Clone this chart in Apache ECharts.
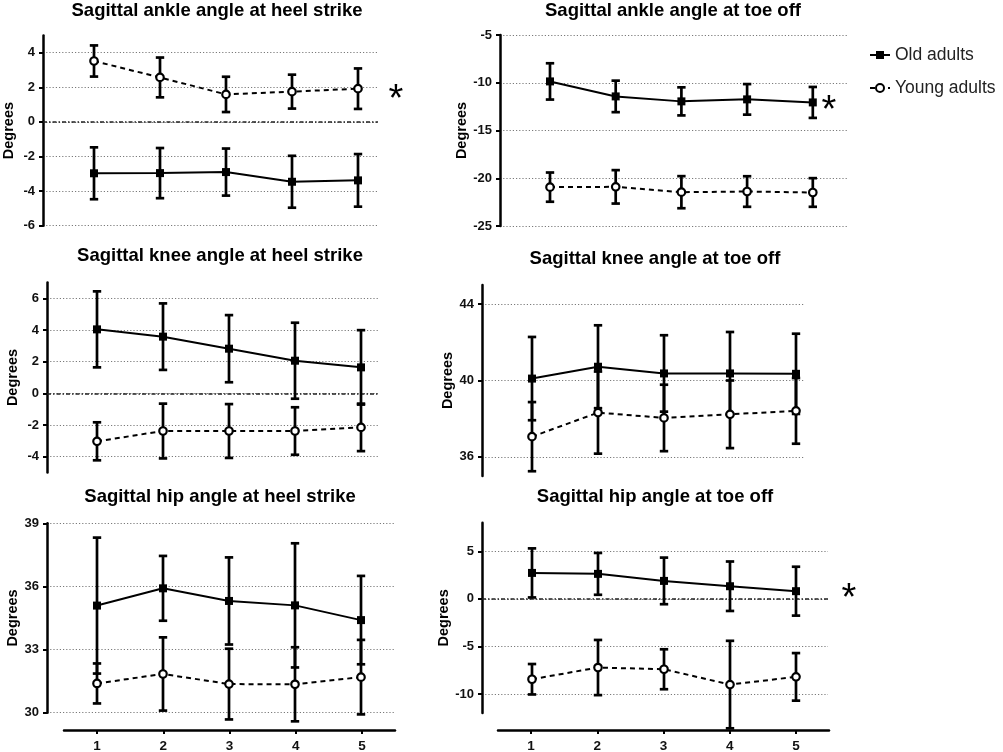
<!DOCTYPE html>
<html>
<head>
<meta charset="utf-8">
<script src="https://cdn.jsdelivr.net/npm/echarts@6/dist/echarts.min.js"></script>
<style>html,body{margin:0;padding:0;background:#fff}#c{width:1003px;height:752px}</style>
</head>
<body>
<div id="c"></div>
<script>
// ---------- data ----------
const xValues = [1, 2, 3, 4, 5];
const seriesNames = ['Old adults', 'Young adults'];
const titles = [
  'Sagittal ankle angle at heel strike',
  'Sagittal ankle angle at toe off',
  'Sagittal knee angle at heel strike',
  'Sagittal knee angle at toe off',
  'Sagittal hip angle at heel strike',
  'Sagittal hip angle at toe off'
];
const yName = 'Degrees';

// Sagittal ankle angle at heel strike
const ankleHsOldMean = [-2.97, -2.96, -2.90, -3.46, -3.38];
const ankleHsOldSd = [1.50, 1.45, 1.36, 1.50, 1.52];
const ankleHsYoungMean = [3.52, 2.57, 1.59, 1.75, 1.92];
const ankleHsYoungSd = [0.90, 1.15, 1.02, 0.98, 1.17];
const ankleHsRange = [-6, 5];
const ankleHsTicks = [-6, -4, -2, 0, 2, 4];

// Sagittal ankle angle at toe off
const ankleToOldMean = [-9.86, -11.43, -11.95, -11.74, -12.06];
const ankleToOldSd = [1.90, 1.65, 1.47, 1.60, 1.62];
const ankleToYoungMean = [-20.93, -20.90, -21.46, -21.39, -21.49];
const ankleToYoungSd = [1.53, 1.75, 1.68, 1.60, 1.50];
const ankleToRange = [-25, -5];
const ankleToTicks = [-25, -20, -15, -10, -5];

// Sagittal knee angle at heel strike
const kneeHsOldMean = [4.04, 3.58, 2.82, 2.06, 1.64];
const kneeHsOldSd = [2.40, 2.10, 2.12, 2.40, 2.35];
const kneeHsYoungMean = [-3.03, -2.38, -2.38, -2.38, -2.15];
const kneeHsYoungSd = [1.20, 1.73, 1.70, 1.50, 1.50];
const kneeHsRange = [-5, 7];
const kneeHsTicks = [-4, -2, 0, 2, 4, 6];

// Sagittal knee angle at toe off
const kneeToOldMean = [40.10, 40.72, 40.37, 40.37, 40.35];
const kneeToOldSd = [2.18, 2.17, 2.00, 2.17, 2.10];
const kneeToYoungMean = [37.06, 38.32, 38.04, 38.23, 38.41];
const kneeToYoungSd = [1.81, 2.15, 1.74, 1.77, 1.72];
const kneeToRange = [35, 45];
const kneeToTicks = [36, 40, 44];

// Sagittal hip angle at heel strike
const hipHsOldMean = [35.09, 35.91, 35.31, 35.10, 34.40];
const hipHsOldSd = [3.23, 1.54, 2.07, 2.95, 2.10];
const hipHsYoungMean = [31.39, 31.84, 31.36, 31.35, 31.69];
const hipHsYoungSd = [0.95, 1.74, 1.68, 1.76, 1.77];
const hipHsRange = [30, 39];
const hipHsTicks = [30, 33, 36, 39];

// Sagittal hip angle at toe off
const hipToOldMean = [2.73, 2.63, 1.89, 1.33, 0.81];
const hipToOldSd = [2.58, 2.20, 2.45, 2.60, 2.57];
const hipToYoungMean = [-8.45, -7.22, -7.40, -9.01, -8.20];
const hipToYoungSd = [1.60, 2.90, 2.10, 4.60, 2.50];
const hipToRange = [-12, 8];
const hipToTicks = [-10, -5, 0, 5];

// which panels carry a significance asterisk / zero reference line
const starFlags = [true, true, false, false, false, true];
const zeroFlags = [true, false, true, false, false, true];

// ---------- panel assembly ----------
const panels = [
  {old: [ankleHsOldMean, ankleHsOldSd], young: [ankleHsYoungMean, ankleHsYoungSd], range: ankleHsRange, ticks: ankleHsTicks},
  {old: [ankleToOldMean, ankleToOldSd], young: [ankleToYoungMean, ankleToYoungSd], range: ankleToRange, ticks: ankleToTicks},
  {old: [kneeHsOldMean, kneeHsOldSd], young: [kneeHsYoungMean, kneeHsYoungSd], range: kneeHsRange, ticks: kneeHsTicks},
  {old: [kneeToOldMean, kneeToOldSd], young: [kneeToYoungMean, kneeToYoungSd], range: kneeToRange, ticks: kneeToTicks},
  {old: [hipHsOldMean, hipHsOldSd], young: [hipHsYoungMean, hipHsYoungSd], range: hipHsRange, ticks: hipHsTicks},
  {old: [hipToOldMean, hipToOldSd], young: [hipToYoungMean, hipToYoungSd], range: hipToRange, ticks: hipToTicks}
];

// ---------- layout (pixels) ----------
const layout = [
  {L: 43,  R: 378, T: 35.4,  By: 225.7, Bd: 225.7, p1: 94,  s: 66,   tx: 217, ty: 11,  star: [396, 101]},
  {L: 500, R: 847, T: 35,    By: 226,   Bd: 226,   p1: 550, s: 65.7, tx: 673, ty: 11,  star: [829, 112]},
  {L: 47,  R: 378, T: 282.5, By: 472.5, Bd: 472.5, p1: 97,  s: 66,   tx: 220, ty: 256},
  {L: 482, R: 805, T: 285,   By: 476,   Bd: 476,   p1: 532, s: 66,   tx: 655, ty: 259},
  {L: 47,  R: 394, T: 523.3, By: 712.7, Bd: 730,   p1: 97,  s: 66,   tx: 220, ty: 497, xL: 64,  xR: 395},
  {L: 482, R: 828, T: 522.8, By: 713,   Bd: 730,   p1: 532, s: 66,   tx: 655, ty: 497, xL: 498, xR: 829, star: [849, 600]}
];

const FONT = '"Liberation Sans", Arial, Helvetica, sans-serif';

function errRender(params, api) {
  const x = api.value(0), m = api.value(1), sd = api.value(2);
  const top = api.coord([x, m + sd]);
  const bot = api.coord([x, m - sd]);
  const cw = 4.2;
  const style = {stroke: '#000', lineWidth: 2.7, fill: null};
  return {
    type: 'group',
    children: [
      {type: 'line', shape: {x1: top[0], y1: top[1], x2: bot[0], y2: bot[1]}, style: style},
      {type: 'line', shape: {x1: top[0] - cw, y1: top[1], x2: top[0] + cw, y2: top[1]}, style: style},
      {type: 'line', shape: {x1: bot[0] - cw, y1: bot[1], x2: bot[0] + cw, y2: bot[1]}, style: style}
    ]
  };
}

const grid = [], xAxis = [], yAxis = [], series = [], graphic = [];

panels.forEach(function (p, k) {
  const g = layout[k];
  const ymin = p.range[0], ymax = p.range[1];
  const ydmin = ymin - (g.Bd - g.By) / (g.By - g.T) * (ymax - ymin);

  // data grid
  grid.push({left: g.L, top: g.T, width: g.R - g.L, height: g.Bd - g.T, outerBoundsMode: 'none'});
  const gi = grid.length - 1;
  xAxis.push({gridIndex: gi, type: 'value', min: 1 - (g.p1 - g.L) / g.s, max: 1 + (g.R - g.p1) / g.s, show: false});
  const dx = xAxis.length - 1;
  yAxis.push({
    gridIndex: gi, type: 'value', min: ydmin, max: ymax,
    axisLine: {show: false},
    axisTick: {show: false, customValues: p.ticks},
    axisLabel: {show: false, customValues: p.ticks},
    splitLine: {show: true, lineStyle: {color: '#7a7a7a', width: 1, type: [1.2, 2]}}
  });
  const dy = yAxis.length - 1;

  // y axis grid (axis line only spans the labelled range)
  grid.push({left: g.L, top: g.T, width: 1, height: g.By - g.T, outerBoundsMode: 'none'});
  const gy = grid.length - 1;
  xAxis.push({gridIndex: gy, type: 'value', min: 0, max: 1, show: false});
  yAxis.push({
    gridIndex: gy, type: 'value', min: ymin, max: ymax, position: 'left',
    axisLine: {show: true, onZero: false, lineStyle: {color: '#000', width: 2.5}},
    axisTick: {show: true, customValues: p.ticks, length: 4, lineStyle: {color: '#000', width: 2}},
    axisLabel: {customValues: p.ticks, margin: 8, color: '#111', fontWeight: 'bold', fontSize: 13, fontFamily: FONT},
    splitLine: {show: false},
    name: yName, nameLocation: 'middle', nameGap: 27,
    nameTextStyle: {color: '#000', fontWeight: 'bold', fontSize: 14.5, fontFamily: FONT}
  });

  // x axis grid for the bottom row
  if (g.xL !== undefined) {
    grid.push({left: g.xL, top: g.Bd - 1, width: g.xR - g.xL, height: 1, outerBoundsMode: 'none'});
    const gx = grid.length - 1;
    xAxis.push({
      gridIndex: gx, type: 'value', min: 0.5, max: 5.5, position: 'bottom',
      axisLine: {show: true, onZero: false, lineStyle: {color: '#000', width: 2.5}},
      axisTick: {show: true, customValues: xValues, length: 4, lineStyle: {color: '#000', width: 2}},
      axisLabel: {customValues: xValues, margin: 9, color: '#111', fontWeight: 'bold', fontSize: 13.5, fontFamily: FONT},
      splitLine: {show: false}
    });
    yAxis.push({gridIndex: gx, type: 'value', show: false, min: 0, max: 1});
  }

  const errPts = function (d) { return xValues.map(function (x, i) { return [x, d[0][i], d[1][i]]; }); };
  const pts = function (d) { return xValues.map(function (x, i) { return [x, d[0][i]]; }); };

  series.push({type: 'custom', name: 'err-old-' + k, xAxisIndex: dx, yAxisIndex: dy, renderItem: errRender,
    data: errPts(p.old), encode: {x: 0, y: 1}, z: 3, silent: true});
  series.push({type: 'custom', name: 'err-young-' + k, xAxisIndex: dx, yAxisIndex: dy, renderItem: errRender,
    data: errPts(p.young), encode: {x: 0, y: 1}, z: 3, silent: true});

  const oldSeries = {
    type: 'line', name: seriesNames[0], xAxisIndex: dx, yAxisIndex: dy, data: pts(p.old),
    symbol: 'rect', symbolSize: 8, showAllSymbol: true,
    itemStyle: {color: '#000'}, lineStyle: {color: '#000', width: 2}, z: 5, silent: true
  };
  if (zeroFlags[k]) {
    oldSeries.markLine = {
      silent: true, symbol: 'none', label: {show: false},
      lineStyle: {color: '#222', width: 1.5, type: [4, 2, 1.5, 2]},
      data: [{yAxis: 0}], z: 1
    };
  }
  series.push(oldSeries);
  series.push({
    type: 'line', name: seriesNames[1], xAxisIndex: dx, yAxisIndex: dy, data: pts(p.young),
    symbol: 'circle', symbolSize: 7.5, showAllSymbol: true,
    itemStyle: {color: '#fff', borderColor: '#000', borderWidth: 2.2},
    lineStyle: {color: '#000', width: 2, type: [5, 4]}, z: 6, silent: true
  });

  graphic.push({type: 'text', x: g.tx, y: g.ty, silent: true,
    style: {text: titles[k], font: 'bold 18.5px ' + FONT, fill: '#000',
      align: 'center', verticalAlign: 'middle', textAlign: 'center', textVerticalAlign: 'middle'}});
  if (starFlags[k]) {
    graphic.push({type: 'text', x: g.star[0], y: g.star[1], silent: true,
      style: {text: '*', font: '38px ' + FONT, fill: '#000',
        align: 'center', verticalAlign: 'middle', textAlign: 'center', textVerticalAlign: 'middle'}});
  }
});

const chart = echarts.init(document.getElementById('c'), null, {renderer: 'canvas'});
chart.setOption({
  backgroundColor: '#fff',
  animation: false,
  textStyle: {fontFamily: FONT},
  grid: grid,
  xAxis: xAxis,
  yAxis: yAxis,
  legend: {
    data: seriesNames, orient: 'vertical', left: 864, top: 40,
    itemWidth: 20, itemHeight: 10, itemGap: 13, selectedMode: false,
    textStyle: {fontSize: 17.5, color: '#222', fontFamily: FONT, lineHeight: 20}
  },
  graphic: graphic,
  series: series
});
</script>
</body>
</html>
